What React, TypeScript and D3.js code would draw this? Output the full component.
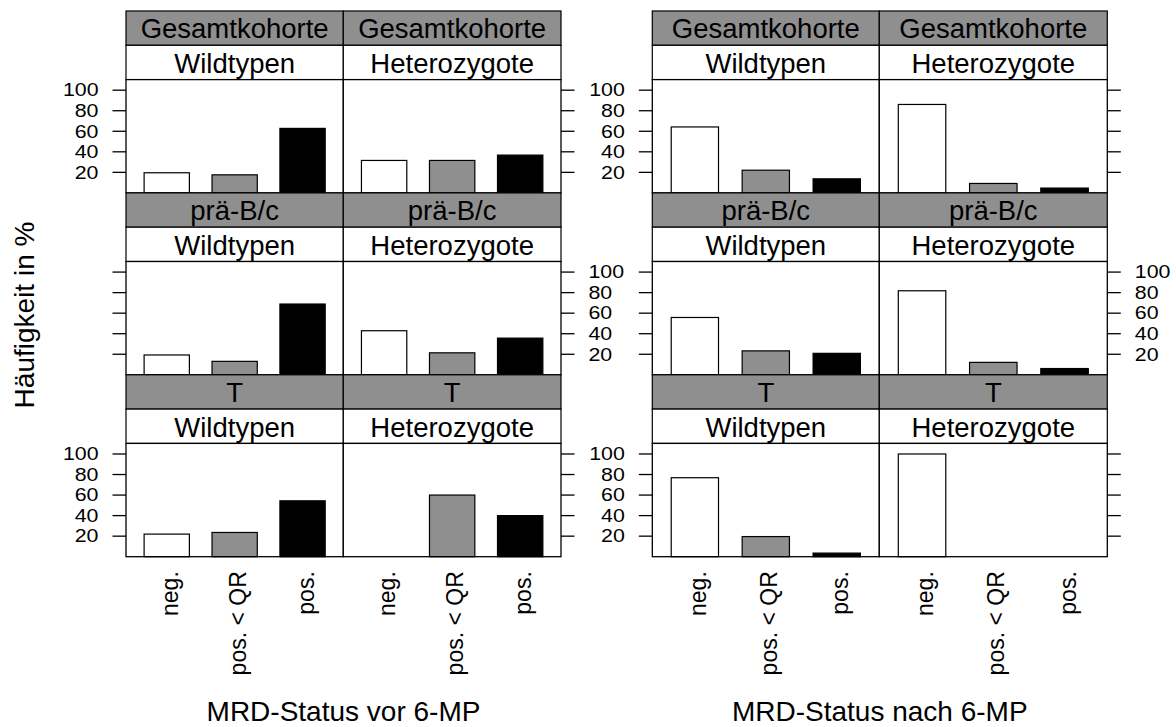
import React from "react";
import * as d3 from "d3";

// ---- data ----
const rowLabels = ["Gesamtkohorte", "prä-B/c", "T"];
const colLabels = ["Wildtypen", "Heterozygote"];
const categories = ["neg.", "pos. < QR", "pos."];
const yTicks = [20, 40, 60, 80, 100];
const groupTitles = ["MRD-Status vor 6-MP", "MRD-Status nach 6-MP"];
const yTitle = "Häufigkeit in %";

// MRD-Status vor 6-MP
const vorGesamtWild = [19.6, 17.6, 62.8];
const vorGesamtHet = [31.6, 31.6, 36.8];
const vorPraeBWild = [19.3, 13.1, 68.9];
const vorPraeBHet = [42.9, 21.4, 35.7];
const vorTWild = [22.0, 23.6, 54.4];
const vorTHet = [0, 60.0, 40.0];
// MRD-Status nach 6-MP
const nachGesamtWild = [64.2, 22.1, 13.7];
const nachGesamtHet = [86.1, 9.2, 4.7];
const nachPraeBWild = [55.8, 23.3, 20.9];
const nachPraeBHet = [81.8, 12.1, 6.1];
const nachTWild = [76.9, 19.6, 3.5];
const nachTHet = [100, 0, 0];

const groupData = [
  [
    [vorGesamtWild, vorGesamtHet],
    [vorPraeBWild, vorPraeBHet],
    [vorTWild, vorTHet],
  ],
  [
    [nachGesamtWild, nachGesamtHet],
    [nachPraeBWild, nachPraeBHet],
    [nachTWild, nachTHet],
  ],
];

// ---- layout ----
const W = 1176;
const H = 727;
const FONT = "'Liberation Sans', Arial, Helvetica, sans-serif";
const GREY = "#8f8f8f";
const barFills = ["#ffffff", GREY, "#000000"];
const top0 = 11;
const stripH = 34.3;
const rowPitch = 181.9;
const groups = [
  { x0: 126, xm: 343.3, x1: 561 },
  { x0: 652.3, xm: 879.3, x1: 1107.3 },
];
const tickLen = 13.5;
const labelGap = 27.5;
const tickFont = 17.5;
const tickStretch = 1.22;

function Panel({ gx0, gx1, rowTop, values, rowLabel, colLabel }: any) {
  const plotTop = rowTop + 2 * stripH;
  const plotBottom = rowTop + rowPitch;
  const x = d3
    .scaleBand<string>()
    .domain(categories)
    .range([gx0, gx1])
    .paddingInner(1 / 3)
    .paddingOuter(0.2667);
  const y = d3.scaleLinear().domain([0, 110.3]).range([plotBottom, plotTop]);
  const w = gx1 - gx0;
  return (
    <g>
      <rect x={gx0} y={rowTop} width={w} height={stripH} fill={GREY} stroke="#000" strokeWidth={1.2} />
      <text x={(gx0 + gx1) / 2} y={rowTop + stripH / 2 + 10.3} textAnchor="middle" fontSize={27.5} fontFamily={FONT}>
        {rowLabel}
      </text>
      <rect x={gx0} y={rowTop + stripH} width={w} height={stripH} fill="#fff" stroke="#000" strokeWidth={1.2} />
      <text x={(gx0 + gx1) / 2} y={rowTop + stripH * 1.5 + 10.3} textAnchor="middle" fontSize={27.5} fontFamily={FONT}>
        {colLabel}
      </text>
      <rect x={gx0} y={plotTop} width={w} height={plotBottom - plotTop} fill="#fff" stroke="none" />
      {values.map((v: number, i: number) => (
        <rect
          key={i}
          x={x(categories[i])}
          width={x.bandwidth()}
          y={y(v)}
          height={y(0) - y(v)}
          fill={barFills[i]}
          stroke="#000"
          strokeWidth={1.2}
        />
      ))}
      <rect x={gx0} y={plotTop} width={w} height={plotBottom - plotTop} fill="none" stroke="#000" strokeWidth={1.3} />
    </g>
  );
}

export default function App() {
  return (
    <svg width={W} height={H} style={{ position: "absolute", left: 0, top: 0, background: "#fff" }}>
      <rect x={0} y={0} width={W} height={H} fill="#fff" />
      {groups.map((g, gi) => {
        const xLeft = d3.scaleBand<string>().domain(categories).range([g.x0, g.xm]).paddingInner(1 / 3).paddingOuter(0.2667);
        const xRight = d3.scaleBand<string>().domain(categories).range([g.xm, g.x1]).paddingInner(1 / 3).paddingOuter(0.2667);
        return (
          <g key={gi}>
            {rowLabels.map((rl, ri) => {
              const rowTop = top0 + ri * rowPitch;
              const plotTop = rowTop + 2 * stripH;
              const plotBottom = rowTop + rowPitch;
              const y = d3.scaleLinear().domain([0, 110.3]).range([plotBottom, plotTop]);
              const labelsLeft = ri !== 1;
              return (
                <g key={ri}>
                  <Panel gx0={g.x0} gx1={g.xm} rowTop={rowTop} values={groupData[gi][ri][0]} rowLabel={rl} colLabel={colLabels[0]} />
                  <Panel gx0={g.xm} gx1={g.x1} rowTop={rowTop} values={groupData[gi][ri][1]} rowLabel={rl} colLabel={colLabels[1]} />
                  {yTicks.map((t) => (
                    <g key={t}>
                      <line x1={g.x0 - tickLen} x2={g.x0} y1={y(t)} y2={y(t)} stroke="#000" strokeWidth={1.3} />
                      <line x1={g.x1} x2={g.x1 + tickLen} y1={y(t)} y2={y(t)} stroke="#000" strokeWidth={1.3} />
                      <text
                        transform={`translate(${labelsLeft ? g.x0 - labelGap : g.x1 + labelGap},${y(t) + tickFont * 0.36}) scale(${tickStretch},1)`}
                        textAnchor={labelsLeft ? "end" : "start"}
                        fontSize={tickFont}
                        fontFamily={FONT}
                      >
                        {t}
                      </text>
                    </g>
                  ))}
                </g>
              );
            })}
            {[xLeft, xRight].map((xs, ci) =>
              categories.map((c) => {
                const cx = (xs(c) as number) + xs.bandwidth() / 2;
                const yy = top0 + 3 * rowPitch + 14.5;
                return (
                  <text
                    key={ci + c}
                    transform={`translate(${cx + 3},${yy}) rotate(-90)`}
                    textAnchor="end"
                    dominantBaseline="central"
                    fontSize={23}
                    fontFamily={FONT}
                  >
                    {c}
                  </text>
                );
              })
            )}
            <text x={(g.x0 + g.x1) / 2} y={721} textAnchor="middle" fontSize={28} fontFamily={FONT}>
              {groupTitles[gi]}
            </text>
          </g>
        );
      })}
      <text transform="translate(34,315) rotate(-90)" textAnchor="middle" fontSize={28} fontFamily={FONT}>
        {yTitle}
      </text>
    </svg>
  );
}
